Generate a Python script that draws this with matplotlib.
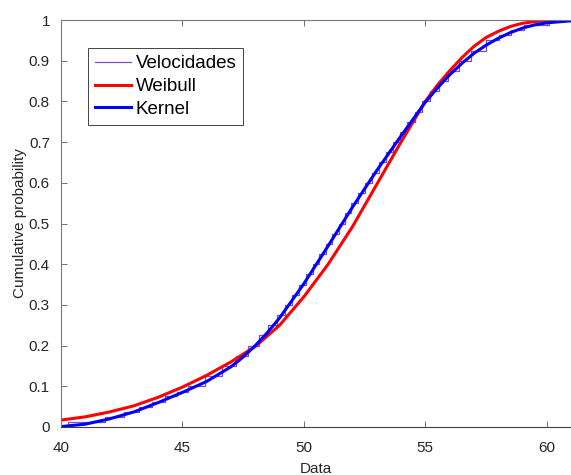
import numpy as np
import matplotlib
matplotlib.use("Agg")
import matplotlib.pyplot as plt

plt.rcParams['font.family'] = ['Liberation Sans', 'DejaVu Sans']

# kernel CDF (blue)
kernel_x = [40, 41, 42, 43, 44, 45, 46, 47, 47.5, 48, 48.5, 49, 50, 51, 52,
            53, 54, 55, 55.5, 56, 56.5, 57, 57.5, 58, 58.5, 59, 59.5, 60, 61]
kernel_y = [0.001, 0.007, 0.020, 0.037, 0.060, 0.085, 0.112, 0.148, 0.172,
            0.200, 0.232, 0.268, 0.352, 0.445, 0.540, 0.630, 0.715, 0.798,
            0.833, 0.865, 0.893, 0.918, 0.938, 0.955, 0.969, 0.980, 0.988,
            0.993, 0.998]

# weibull CDF (red)
weibull_x = [40, 41, 42, 43, 44, 45, 46, 47, 48, 49, 50, 51, 52, 53, 54, 55,
             55.5, 56, 56.5, 57, 57.5, 58, 58.5, 59, 59.5, 60, 61]
weibull_y = [0.017, 0.025, 0.037, 0.052, 0.073, 0.098, 0.127, 0.160, 0.198,
             0.250, 0.320, 0.400, 0.492, 0.596, 0.700, 0.800, 0.840, 0.875,
             0.907, 0.935, 0.957, 0.972, 0.984, 0.992, 0.996, 0.999, 1.000]

# empirical CDF steps (Velocidades)
ecdf_x = [40.3, 41.8, 42.6, 43.22, 43.76, 44.27, 44.76, 45.22, 45.92, 46.62,
          47.22, 47.72, 48.15, 48.53, 48.9, 49.22, 49.52, 49.82, 50.1,
          50.37, 50.64, 50.91, 51.17, 51.44, 51.7, 51.96, 52.24, 52.52,
          52.8, 53.08, 53.37, 53.67, 53.96, 54.26, 54.56, 54.86, 55.2,
          55.57, 55.94, 56.4, 56.88, 57.5, 58.02, 58.52, 59.05, 60.1]
ecdf_y = [0.012, 0.025, 0.037, 0.05, 0.062, 0.075, 0.087, 0.10, 0.125, 0.15,
          0.175, 0.20, 0.225, 0.25, 0.275, 0.30, 0.325, 0.35, 0.375, 0.40,
          0.425, 0.45, 0.475, 0.50, 0.525, 0.55, 0.575, 0.60, 0.625, 0.65,
          0.675, 0.70, 0.725, 0.75, 0.775, 0.80, 0.825, 0.85, 0.875, 0.90,
          0.925, 0.95, 0.962, 0.975, 0.987, 1.0]

x_ticks = [40, 45, 50, 55, 60]
y_ticks = [0, 0.1, 0.2, 0.3, 0.4, 0.5, 0.6, 0.7, 0.8, 0.9, 1]
y_labels = ['0', '0.1', '0.2', '0.3', '0.4', '0.5', '0.6', '0.7', '0.8', '0.9', '1']

fig = plt.figure(figsize=(5.71, 4.75), dpi=100)
ax = fig.add_axes([61 / 571, 48 / 475, 510 / 571, 407 / 475])

ax.step(np.r_[ecdf_x[0], ecdf_x], np.r_[0, ecdf_y], where='post',
        color='#7B4FC4', lw=0.9, label='Velocidades')
ax.plot(weibull_x, weibull_y, color='#FF0000', lw=2.2, label='Weibull')
ax.plot(kernel_x, kernel_y, color='#0000FF', lw=2.2, label='Kernel')

ax.set_xlim(40, 61)
ax.set_ylim(0, 1)
ax.set_xticks(x_ticks)
ax.set_yticks(y_ticks)
ax.set_yticklabels(y_labels)
ax.tick_params(direction='in', length=4, width=0.7, colors='#707070',
               labelcolor='#262626', labelsize=11, top=True, right=False)
ax.tick_params(axis='x', pad=10)
ax.tick_params(axis='y', pad=8)
ax.spines['right'].set_visible(False)
for s in ['left', 'top']:
    ax.spines[s].set_color('#7a7a7a')
ax.spines['bottom'].set_color('#404040')

ax.set_xlabel('Data', fontsize=11, color='#262626', labelpad=5)
ax.set_ylabel('Cumulative probability', fontsize=11, color='#262626', labelpad=1)

leg = ax.legend(loc='upper left', bbox_to_anchor=(0.053, 0.931), borderaxespad=0,
                fontsize=13.5, handlelength=1.9, handletextpad=0.25,
                labelspacing=0.3, borderpad=0.38, fancybox=False, framealpha=1)
leg.get_frame().set_edgecolor('#262626')
leg.get_frame().set_linewidth(0.6)

fig.savefig('out.png', dpi=100)
